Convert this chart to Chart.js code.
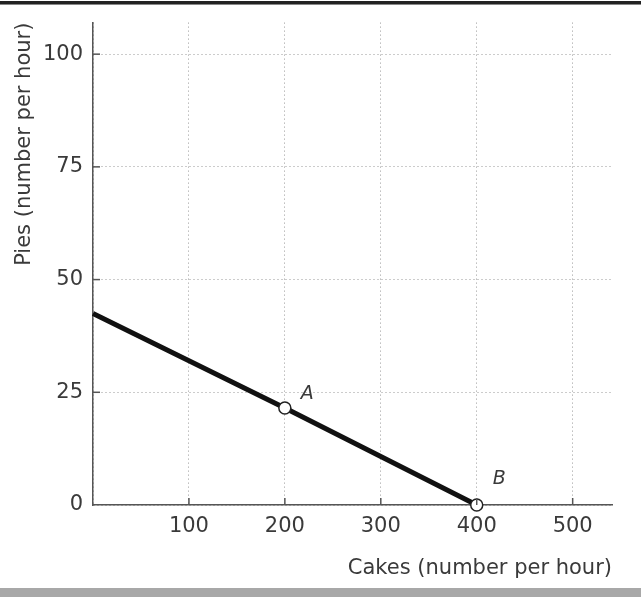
<!DOCTYPE html>
<html><head><meta charset="utf-8">
<script src="https://cdn.jsdelivr.net/npm/chart.js@4"></script>
<style>
html,body{margin:0;padding:0;background:#fff;}
#wrap{position:relative;width:641px;height:597px;}
#topline{position:absolute;left:0;top:1px;width:641px;height:3px;background:#222;border-bottom:1px solid #888;}
#botband{position:absolute;left:0;top:588px;width:641px;height:9px;background:#a8a8a8;}
canvas{position:absolute;left:0;top:0;}
</style></head>
<body><div id="wrap"><canvas id="c" width="641" height="597"></canvas><div id="topline"></div><div id="botband"></div></div>
<script>
const cakes = [0, 200, 400];
const pies = [42.5, 21.5, 0];
const pointLabels = ['', 'A', 'B'];
const xTicks = [0, 100, 200, 300, 400, 500];
const yTicks = [0, 25, 50, 75, 100];

const FONT = '"DejaVu Sans", sans-serif';
const TXT = '#3a3a3a';

const labelPlugin = {
  id: 'pl',
  afterDatasetsDraw(chart) {
    const ctx = chart.ctx, xs = chart.scales.x, ys = chart.scales.y;
    ctx.save();
    ctx.font = 'italic 19px ' + FONT;
    ctx.fillStyle = TXT;
    ctx.textBaseline = 'middle';
    ctx.textAlign = 'left';
    const offs = [[0,0],[16,-14],[16,-26]];
    cakes.forEach((c,i) => {
      if (!pointLabels[i]) return;
      ctx.fillText(pointLabels[i], xs.getPixelForValue(c) + offs[i][0], ys.getPixelForValue(pies[i]) + offs[i][1]);
    });
    ctx.strokeStyle = '#555'; ctx.lineWidth = 1.5;
    xTicks.forEach(t => { if (!t) return; const px = xs.getPixelForValue(t); ctx.beginPath(); ctx.moveTo(px, ys.bottom); ctx.lineTo(px, ys.bottom - 7); ctx.stroke(); });
    yTicks.forEach(t => { if (!t) return; const py = ys.getPixelForValue(t); ctx.beginPath(); ctx.moveTo(xs.left, py); ctx.lineTo(xs.left + 7, py); ctx.stroke(); });
    ctx.restore();
  }
};

new Chart(document.getElementById('c'), {
  type: 'scatter',
  data: {
    datasets: [{
      data: cakes.map((c,i) => ({x: c, y: pies[i]})),
      showLine: true,
      clip: false,
      borderColor: '#111',
      borderWidth: 5,
      pointRadius: [0, 6, 6],
      pointBackgroundColor: '#fff',
      pointBorderColor: '#222',
      pointBorderWidth: 1.5,
      tension: 0
    }]
  },
  options: {
    responsive: false,
    animation: false,
    layout: {padding: {left: 0, right: 29, top: 22, bottom: 16}},
    plugins: {legend: {display: false}, tooltip: {enabled: false}},
    scales: {
      x: {
        type: 'linear', min: 0, max: 541,
        afterBuildTicks: s => { s.ticks = xTicks.map(v => ({value: v})); },
        afterFit: s => { s.height = 76; },
        grid: {color: '#999', lineWidth: 1, drawTicks: false},
        border: {display: true, color: '#555', width: 1.5, dash: [1,3]},
        ticks: {font: {family: FONT, size: 21}, color: TXT, padding: 9, callback: v => v === 0 ? '' : String(v)},
        title: {display: true, text: 'Cakes (number per hour)', align: 'end', font: {family: FONT, size: 21}, color: TXT, padding: {top: 6, bottom: 0}}
      },
      y: {
        type: 'linear', min: 0, max: 107,
        afterBuildTicks: s => { s.ticks = yTicks.map(v => ({value: v})); },
        afterFit: s => { s.width = 93; },
        grid: {color: '#999', lineWidth: 1, drawTicks: false},
        border: {display: true, color: '#555', width: 1.5, dash: [1,3]},
        ticks: {font: {family: FONT, size: 21}, color: TXT, padding: 10},
        title: {display: true, text: 'Pies (number per hour)', align: 'end', font: {family: FONT, size: 21}, color: TXT, padding: {top: 12, bottom: 0}}
      }
    }
  },
  plugins: [labelPlugin]
});
</script></body></html>
